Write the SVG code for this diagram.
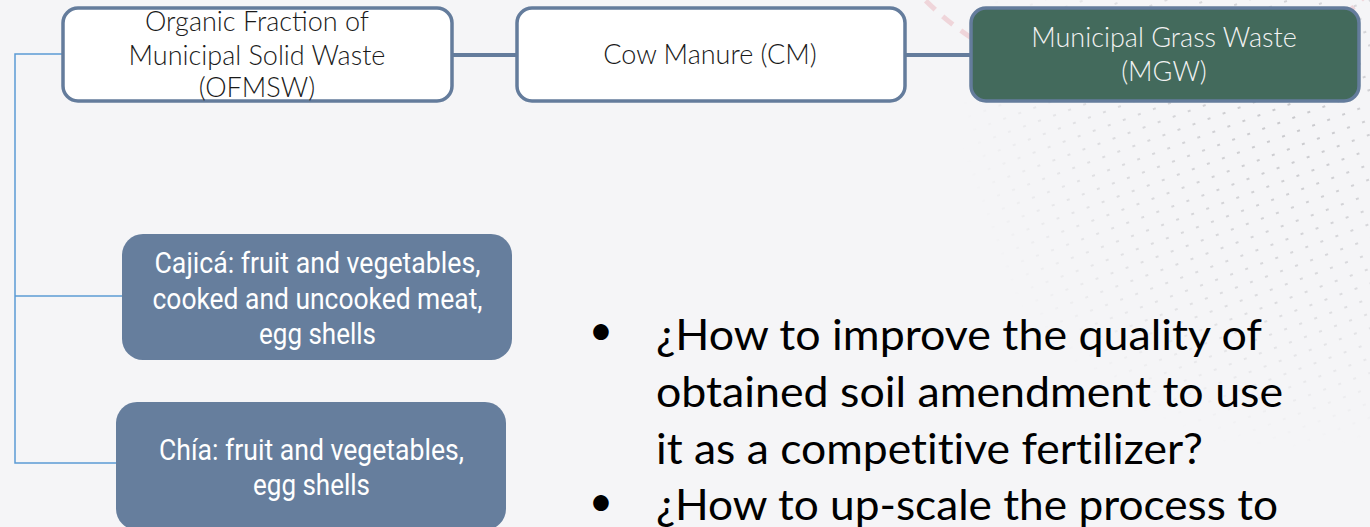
<svg xmlns="http://www.w3.org/2000/svg" width="1370" height="527" viewBox="0 0 1370 527">
<style>
.top{fill:#ffffff;stroke:#647c9c;stroke-width:3.5}
.topg{fill:#436a5c;stroke:#647c9c;stroke-width:3.5}
.sub{fill:#667e9d}
.t1{font-family:Lato,"Liberation Sans",sans-serif;font-size:27px;fill:#1a1a1a;text-anchor:middle;font-weight:300}
.t2{font-family:Lato,"Liberation Sans",sans-serif;font-size:27px;fill:#f2f2f2;text-anchor:middle;font-weight:300}
.ts{font-family:Roboto,"Liberation Sans",sans-serif;font-size:29px;fill:#ffffff;text-anchor:middle}
.tb{font-family:Lato,"Liberation Sans",sans-serif;font-size:42px;fill:#000000;font-variant-ligatures:none}
.thick{stroke:#647c9c;stroke-width:4;fill:none}
.thin{stroke:#5b9bd5;stroke-width:1.5;fill:none}
</style>
<defs>
<pattern id="dots" width="16" height="14" patternUnits="userSpaceOnUse" patternTransform="rotate(-20)">
<rect x="6" y="6" width="3" height="2" fill="#9a9aa0"/>
</pattern>
<radialGradient id="fade" cx="1290" cy="120" r="330" gradientUnits="userSpaceOnUse">
<stop offset="0" stop-color="#fff" stop-opacity="0.9"/>
<stop offset="0.55" stop-color="#fff" stop-opacity="0.5"/>
<stop offset="1" stop-color="#fff" stop-opacity="0"/>
</radialGradient>
<mask id="m"><rect width="1370" height="527" fill="url(#fade)"/></mask>
</defs>
<rect width="1370" height="527" fill="#f5f5f7"/>
<g id="background">
<rect width="1370" height="527" fill="url(#dots)" mask="url(#m)" opacity="0.55"/>
<circle cx="1143" cy="-219" r="309" fill="none" stroke="#e49aa3" stroke-width="5" stroke-dasharray="13 10" opacity="0.35"/>
</g>
<g id="connectors">
<line class="thick" x1="452" y1="55" x2="517" y2="55"/>
<line class="thick" x1="905" y1="55" x2="971" y2="55"/>
<polyline class="thin" points="62,54 15,54 15,463 117,463"/>
<line class="thin" x1="15" y1="296" x2="123" y2="296"/>
</g>
<g id="ofmsw">
<rect class="top" x="63" y="8" width="389" height="93" rx="15"/>
<text class="t1" x="257" y="31">Organic Fraction of</text>
<text class="t1" x="257" y="65">Municipal Solid Waste</text>
<text class="t1" x="257" y="97">(OFMSW)</text>
</g>
<g id="cm">
<rect class="top" x="517" y="8" width="388" height="93" rx="15"/>
<text class="t1" x="710" y="64">Cow Manure (CM)</text>
</g>
<g id="mgw">
<rect class="topg" x="971" y="8" width="388" height="93" rx="15"/>
<text class="t2" x="1164" y="47">Municipal Grass Waste</text>
<text class="t2" x="1164" y="81">(MGW)</text>
</g>
<g id="cajica">
<rect class="sub" x="122" y="234" width="390" height="126" rx="21"/>
<text class="ts" x="317.5" y="273" textLength="326" lengthAdjust="spacingAndGlyphs">Cajicá: fruit and vegetables,</text>
<text class="ts" x="317.5" y="308.5" textLength="330" lengthAdjust="spacingAndGlyphs">cooked and uncooked meat,</text>
<text class="ts" x="317.5" y="343.5" textLength="117" lengthAdjust="spacingAndGlyphs">egg shells</text>
</g>
<g id="chia">
<rect class="sub" x="116" y="402" width="390" height="128" rx="21"/>
<text class="ts" x="311.5" y="460" textLength="305" lengthAdjust="spacingAndGlyphs">Chía: fruit and vegetables,</text>
<text class="ts" x="311.5" y="494.5" textLength="117" lengthAdjust="spacingAndGlyphs">egg shells</text>
</g>
<g id="questions">
<text class="tb" x="601" y="345" text-anchor="middle">•</text>
<text class="tb" x="656" y="350" textLength="606" lengthAdjust="spacingAndGlyphs">¿How to improve the quality of</text>
<text class="tb" x="656" y="407" textLength="627" lengthAdjust="spacingAndGlyphs">obtained soil amendment to use</text>
<text class="tb" x="656" y="464" textLength="547" lengthAdjust="spacingAndGlyphs">it as a competitive fertilizer?</text>
<text class="tb" x="601" y="516" text-anchor="middle">•</text>
<text class="tb" x="656" y="520" textLength="622" lengthAdjust="spacingAndGlyphs">¿How to up-scale the process to</text>
</g>
</svg>
